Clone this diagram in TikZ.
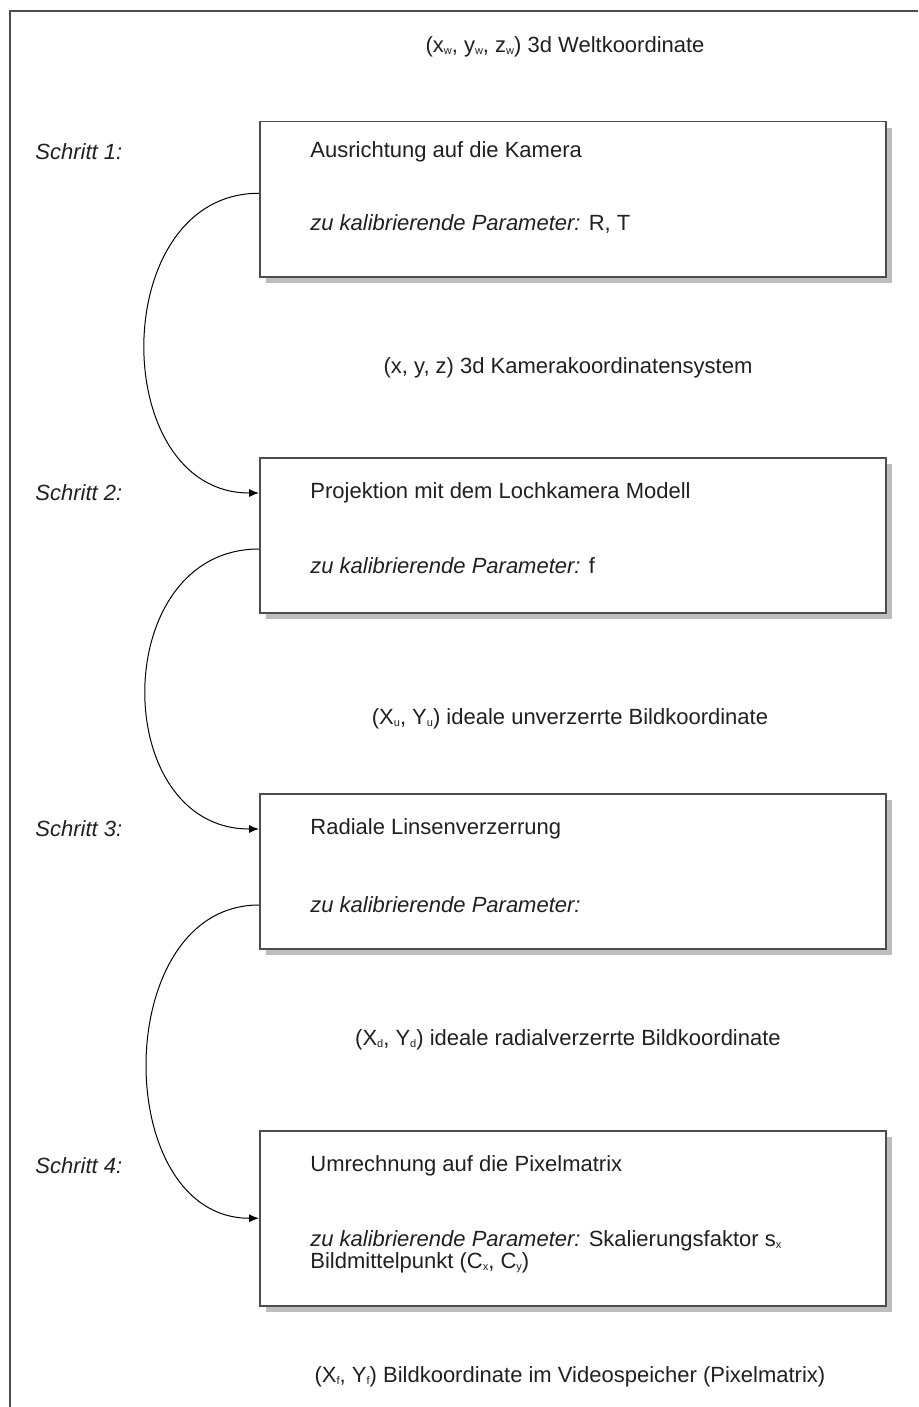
\documentclass[tikz,border=0pt]{standalone}
\usepackage{fontspec}
\setmainfont{Liberation Sans}
\usepackage{xcolor}
\usetikzlibrary{arrows.meta, positioning, shadows}

\definecolor{framegray}{HTML}{4D4D4D}
\definecolor{shadowgray}{HTML}{BCBEC0}
\definecolor{textblack}{HTML}{231F20}
\newcommand{\idx}[1]{\raisebox{-0.15ex}{\fontsize{5.5}{6}\selectfont #1}}

\begin{document}
\begin{tikzpicture}[x=0.5pt, y=-0.5pt, >={Latex[length=5pt, width=4pt]}, font=\fontsize{11}{11}\selectfont, text=textblack]
    \tikzstyle{stepbox}=[draw=framegray, line width=0.75pt, fill=white, inner sep=0pt, anchor=north west,
        minimum width=313pt, minimum height=77.5pt,
        general shadow={fill=shadowgray, shadow xshift=3pt, shadow yshift=-3pt}]
    \tikzstyle{steplabel}=[anchor=west, inner sep=0pt, font=\fontsize{11}{11}\selectfont\itshape]
    \tikzstyle{boxtext}=[anchor=west, inner sep=0pt, align=left]
    \tikzstyle{coordtext}=[inner sep=0pt]
    \tikzstyle{flow}=[->, line width=0.5pt]

    \useasboundingbox (0,0) rectangle (918,1407);
    % --- FRAME (cut off at right and bottom) ---
    \draw[framegray, line width=0.75pt] (10,1407) -- (10,11) -- (918,11);

    % --- COORDINATE SYSTEMS ---
    \node[coordtext] (world)  at (565,47)   {(x\idx{w}, y\idx{w}, z\idx{w}) 3d Weltkoordinate};
    \node[coordtext] (camera) at (568,368)  {(x, y, z) 3d Kamerakoordinatensystem};
    \node[coordtext] (undist) at (570,719)  {(X\idx{u}, Y\idx{u}) ideale unverzerrte Bildkoordinate};
    \node[coordtext] (dist)   at (568,1040) {(X\idx{d}, Y\idx{d}) ideale radialverzerrte Bildkoordinate};
    \node[coordtext] (pixel)  at (570,1377) {(X\idx{f}, Y\idx{f}) Bildkoordinate im Videospeicher (Pixelmatrix)};

    % --- STEPS ---
    % Schritt 1: Ausrichtung
    \node[stepbox] (box1) at (259,121) {};
    \node[steplabel] (step1) at (35,152) {Schritt 1:};
    \node[boxtext] (task1) at (310,152) {Ausrichtung auf die Kamera};
    \node[boxtext] (param1) at (310,224) {\textit{zu kalibrierende Parameter:} R, T};

    % Schritt 2: Projektion
    \node[stepbox] (box2) at (259,457) {};
    \node[steplabel] (step2) at (35,493) {Schritt 2:};
    \node[boxtext] (task2) at (310,493) {Projektion mit dem Lochkamera Modell};
    \node[boxtext] (param2) at (310,566) {\textit{zu kalibrierende Parameter:} f};

    % Schritt 3: Verzerrung
    \node[stepbox] (box3) at (259,793) {};
    \node[steplabel] (step3) at (35,829) {Schritt 3:};
    \node[boxtext] (task3) at (310,829) {Radiale Linsenverzerrung};
    \node[boxtext] (param3) at (310,905) {\textit{zu kalibrierende Parameter:}};

    % Schritt 4: Pixelmatrix
    \node[stepbox, minimum height=87.5pt] (box4) at (259,1130) {};
    \node[steplabel] (step4) at (35,1166) {Schritt 4:};
    \node[boxtext] (task4) at (310,1166) {Umrechnung auf die Pixelmatrix};
    \node[boxtext] (param4) at (310,1252) {\textit{zu kalibrierende Parameter:} Skalierungsfaktor s\idx{x}\\
        Bildmittelpunkt (C\idx{x}, C\idx{y})};

    % --- CONNECTORS ---
    \draw[flow] ([yshift=3pt]box1.west) to[out=180, in=180, looseness=1.3] (box2.west |- task2);
    \draw[flow] (box2.west |- 0,549) to[out=180, in=180, looseness=1.38] (box3.west |- task3);
    \draw[flow] (box3.west |- param3) to[out=180, in=180, looseness=1.22] (box4.west);

\end{tikzpicture}
\end{document}
